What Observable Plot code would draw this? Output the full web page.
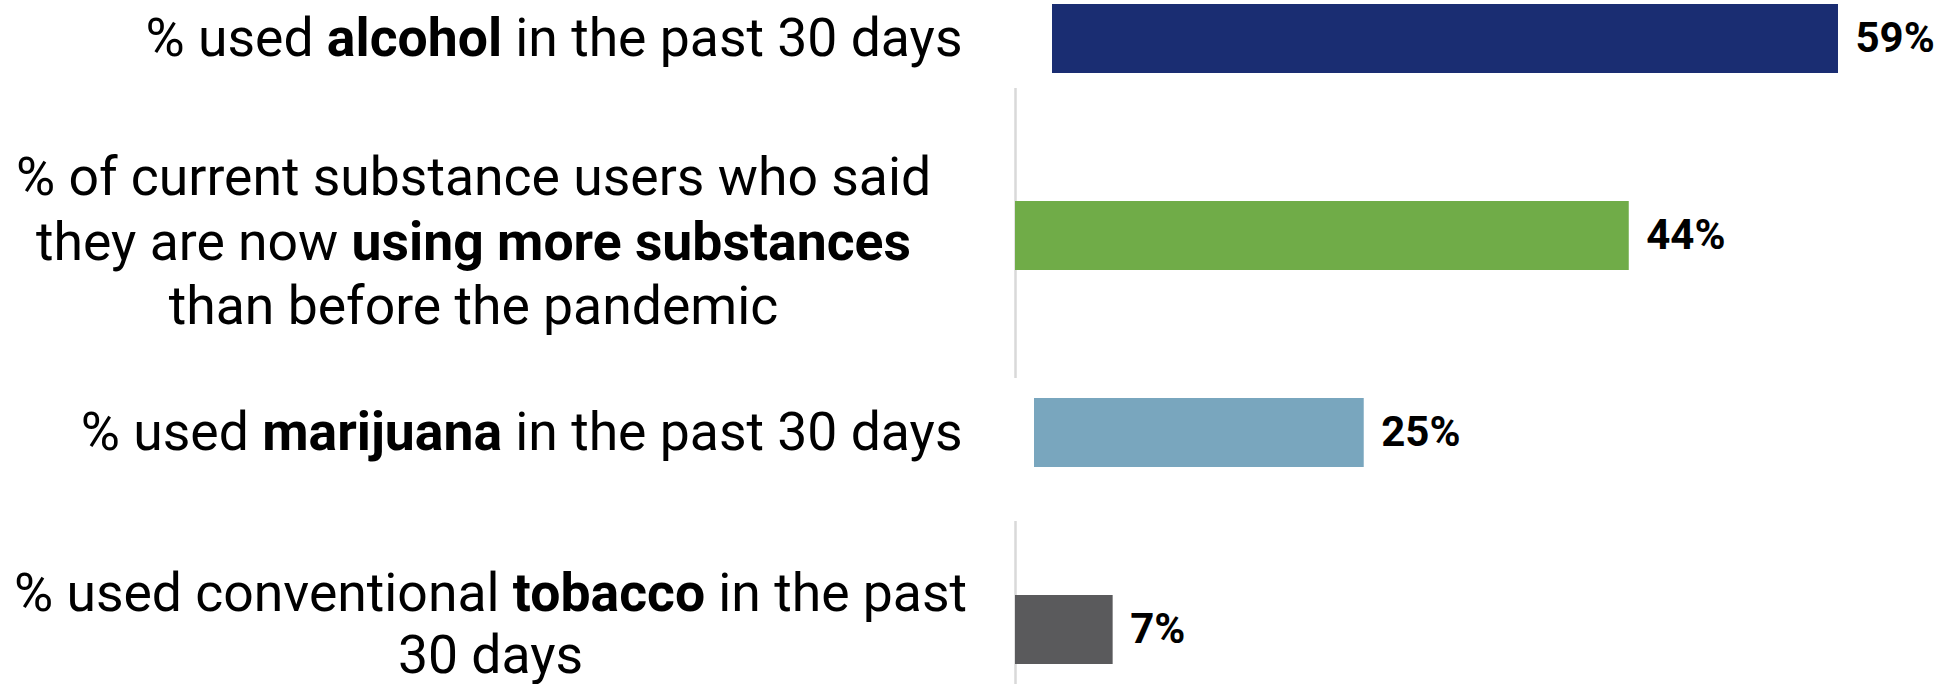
<!DOCTYPE html>
<html>
<head>
<meta charset="utf-8">
<script src="https://cdn.jsdelivr.net/npm/d3@7"></script>
<script src="https://cdn.jsdelivr.net/npm/@observablehq/plot@0.6"></script>
<style>
  html, body { margin: 0; padding: 0; background: #fff; }
  #chart { width: 1944px; height: 684px; }
</style>
</head>
<body>
<div id="chart"></div>
<script>
// Category labels (**...** marks bold words, \n marks a line break)
const categories = [
  "% used **alcohol** in the past 30 days",
  "% of current substance users who said\nthey are now **using more substances**\nthan before the pandemic",
  "% used **marijuana** in the past 30 days",
  "% used conventional **tobacco** in the past\n30 days"
];
// Percent values
const values = [59, 44, 25, 7];

const data = categories.map((label, i) => ({label, value: values[i]}));

const barColors = ["#1a2d72", "#70ac48", "#79a6be", "#5a5a5c"];
const lineColor = "#d9d9d9";

const is = k => d => d.label === categories[k];

const svg = Plot.plot({
  width: 1944,
  height: 684,
  marginLeft: 1015,
  marginRight: 0,
  marginTop: 2,
  marginBottom: 19,
  x: {domain: [0, 66.6], axis: null},
  y: {domain: categories, axis: null, paddingInner: 0.65, paddingOuter: 0},
  color: {domain: categories, range: barColors},
  style: {fontFamily: "Roboto, 'Noto Sans', sans-serif", background: "white", color: "black"},
  marks: [
    // baseline segments
    Plot.ruleX([0], {insetTop: 86, insetBottom: 287, stroke: lineColor, strokeWidth: 2.5}),
    Plot.ruleX([0], {insetTop: 519, insetBottom: -19, stroke: lineColor, strokeWidth: 2.5}),
    // bars
    Plot.barX(data, {filter: is(0), x: "value", y: "label", fill: "label", insetLeft: 37}),
    Plot.barX(data, {filter: is(1), x: "value", y: "label", fill: "label"}),
    Plot.barX(data, {filter: is(2), x: "value", y: "label", fill: "label", insetLeft: 19}),
    Plot.barX(data, {filter: is(3), x: "value", y: "label", fill: "label"}),
    // value labels
    Plot.text(data, {x: "value", y: "label", text: d => d.value + "%", textAnchor: "start",
      dx: 17, fontSize: 42, fontWeight: "bold", fill: "black"}),
    // category labels
    Plot.text(data, {filter: d => !d.label.includes("\n"), y: "label", text: "label", frameAnchor: "left",
      textAnchor: "end", dx: -53, fontSize: 53.5, fill: "black", className: "catlabel"}),
    Plot.text(data, {filter: is(1), y: "label", text: "label", frameAnchor: "left",
      textAnchor: "middle", dx: -542, dy: 3, fontSize: 53.5, lineHeight: 1.2, fill: "black", className: "catlabel"}),
    Plot.text(data, {filter: is(3), y: "label", text: "label", frameAnchor: "left",
      textAnchor: "middle", dx: -525, dy: -8, fontSize: 53.5, lineHeight: 1.17, fill: "black", className: "catlabel"})
  ]
});

// Turn **bold** markers into bold tspans
const NS = "http://www.w3.org/2000/svg";
function richify(el) {
  const s = el.textContent;
  if (!s.includes("**")) return;
  el.textContent = "";
  s.split("**").forEach((part, i) => {
    if (!part) return;
    const t = document.createElementNS(NS, "tspan");
    if (i % 2 === 1) t.setAttribute("font-weight", "bold");
    t.textContent = part;
    el.appendChild(t);
  });
}
svg.querySelectorAll(".catlabel text").forEach(txt => {
  const spans = txt.querySelectorAll(":scope > tspan");
  if (spans.length) spans.forEach(richify);
  else richify(txt);
});

document.getElementById("chart").appendChild(svg);
</script>
</body>
</html>
